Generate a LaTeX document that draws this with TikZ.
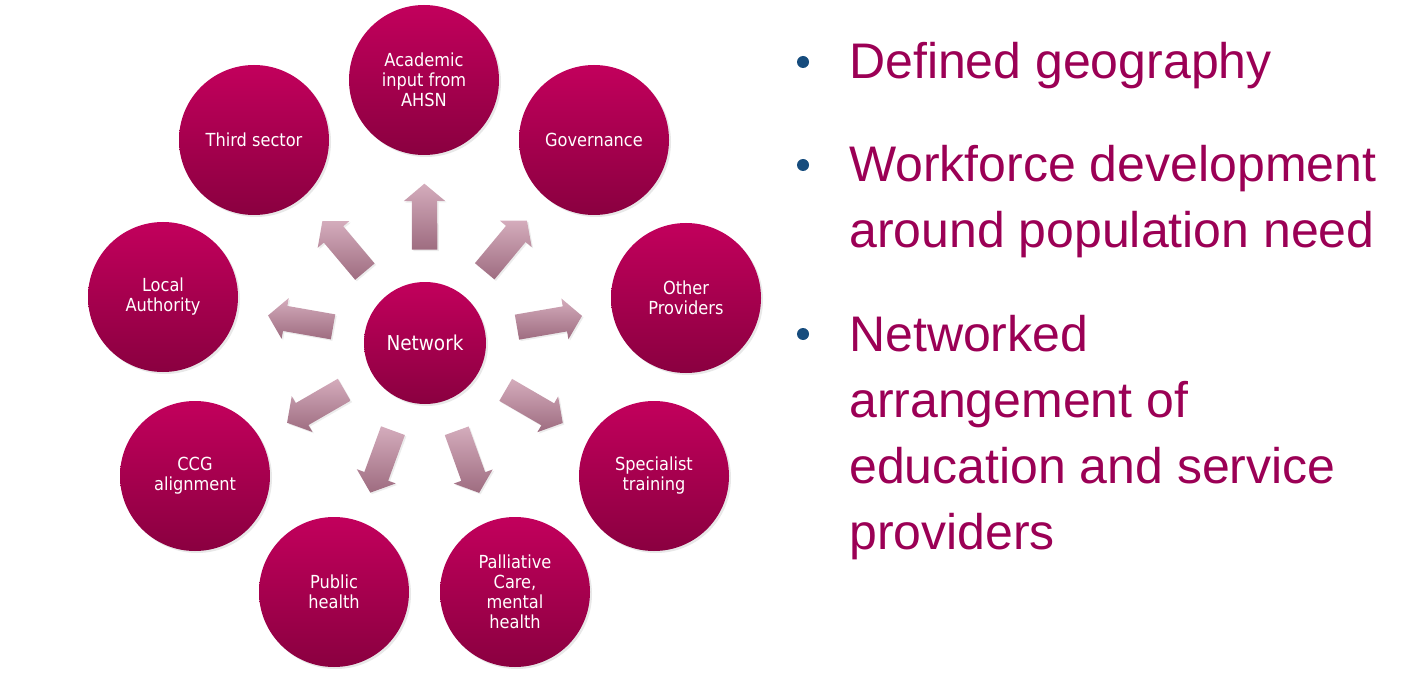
\documentclass[tikz,border=0pt]{standalone}
\usepackage{fontspec}
\setmainfont{Liberation Sans}
\newfontfamily\bubblefont{DejaVu Sans Condensed}
\usetikzlibrary{calc,shapes.arrows,shadows}

\definecolor{berryTop}{RGB}{194,0,92}
\definecolor{berryBottom}{RGB}{138,0,64}
\definecolor{mauveTop}{RGB}{212,172,188}
\definecolor{mauveBottom}{RGB}{158,108,128}
\definecolor{pointText}{RGB}{155,0,85}
\definecolor{pointDot}{RGB}{22,76,125}

\begin{document}
\begin{tikzpicture}[
    % One unit is one pixel of the slide, y runs downwards.
    x=1pt, y=-1pt,
    bubble/.style={circle, minimum size=150pt, inner sep=0pt,
        top color=berryTop, bottom color=berryBottom,
        text=white, align=center,
        font=\bubblefont\fontsize{18}{20}\selectfont,
        drop shadow={opacity=0.18, shadow xshift=2pt, shadow yshift=-2pt}},
    hub/.style={bubble, minimum size=122pt,
        font=\bubblefont\fontsize{20.5}{22}\selectfont},
    spoke/.style={single arrow, single arrow head extend=8pt,
        single arrow tip angle=100, minimum height=66pt,
        inner xsep=0pt, inner ysep=12.5pt,
        top color=mauveTop, bottom color=mauveBottom,
        sloped, allow upside down,
        drop shadow={opacity=0.15, shadow xshift=1.5pt, shadow yshift=-1.5pt}},
    pointtext/.style={anchor=north west, inner sep=0pt, align=left,
        text=pointText, font=\fontsize{50}{66}\selectfont},
    pointdot/.style={circle, fill=pointDot, minimum size=12pt, inner sep=0pt}
]
    \useasboundingbox (0,0) rectangle (1422,679);

    % --- The network in the middle and its partners round it ---
    \node[hub]    (net)   at (425,343) {Network};
    \node[bubble] (acad)  at (424,80)  {Academic\\input from\\AHSN};
    \node[bubble] (gov)   at (594,140) {Governance};
    \node[bubble] (other) at (686,298) {Other\\Providers};
    \node[bubble] (spec)  at (654,476) {Specialist\\training};
    \node[bubble] (pall)  at (515,592) {Palliative\\Care,\\mental\\health};
    \node[bubble] (pub)   at (334,592) {Public\\health};
    \node[bubble] (ccg)   at (195,476) {CCG\\alignment};
    \node[bubble] (local) at (163,297) {Local\\Authority};
    \node[bubble] (third) at (254,140) {Third sector};

    % --- Block arrows pointing out of the network ---
    \foreach \t in {acad,gov,other,spec,pall,pub,ccg,local,third}
        \path ($(net)!88pt!(\t)$) -- node[spoke, midway] {} ($(net)!154pt!(\t)$);

    % --- Bullet points on the right ---
    \node[pointdot] (d1) at (803,62)  {};
    \node[pointdot] (d2) at (803,165) {};
    \node[pointdot] (d3) at (803,334) {};

    \node[pointtext] (p1) at (849,42.5)  {Defined geography};
    \node[pointtext] (p2) at (849,145.5) {Workforce development\\around population need};
    \node[pointtext] (p3) at (849,315.5) {Networked\\arrangement of\\education and service\\providers};
\end{tikzpicture}
\end{document}
